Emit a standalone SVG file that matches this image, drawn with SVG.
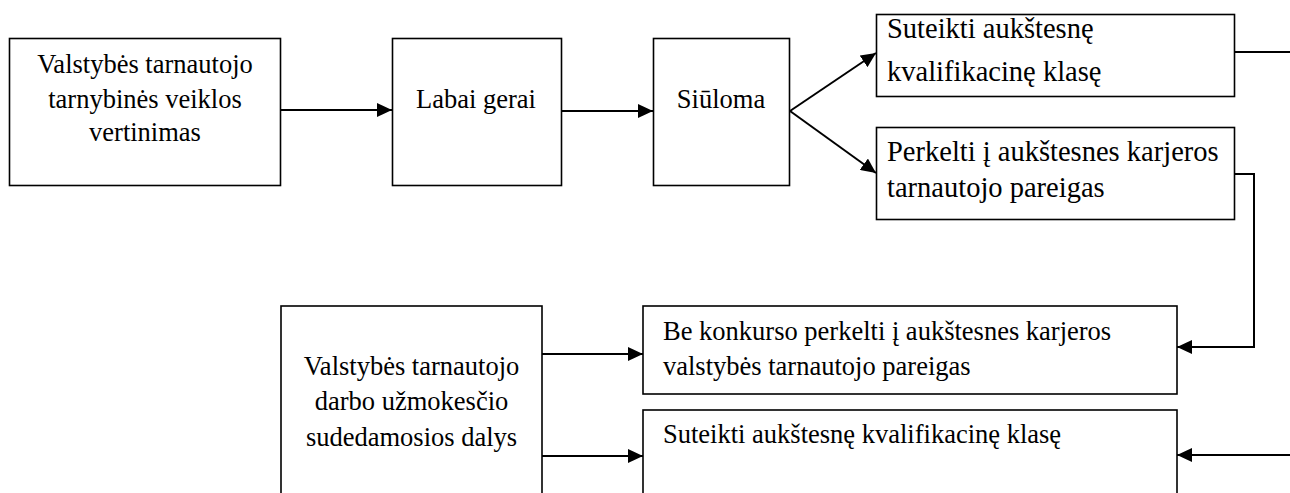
<svg xmlns="http://www.w3.org/2000/svg" width="1290" height="493" viewBox="0 0 1290 493">
<defs>
<style>
.box{fill:#fff;stroke:#000;stroke-width:1.6}
.t{font-family:"Liberation Serif","Times New Roman",serif;font-size:26.5px;fill:#000}
.tl{font-family:"Liberation Serif","Times New Roman",serif;font-size:28.5px;fill:#000}
.c{text-anchor:middle}
.ln{fill:none;stroke:#000;stroke-width:2}
</style>
<marker id="ah" markerWidth="15" markerHeight="14" refX="15" refY="7" orient="auto" markerUnits="userSpaceOnUse">
<path d="M0,0 L15,7 L0,14 Z" fill="#000"/>
</marker>
</defs>
<rect width="1290" height="493" fill="#fff"/>
<g id="connectors">
<line class="ln" x1="281" y1="110" x2="392" y2="110" marker-end="url(#ah)"/>
<line class="ln" x1="561" y1="111" x2="653" y2="111" marker-end="url(#ah)"/>
<line class="ln" x1="790" y1="111" x2="876" y2="53" marker-end="url(#ah)"/>
<line class="ln" x1="790" y1="111" x2="876" y2="173" marker-end="url(#ah)"/>
<line class="ln" x1="1235" y1="52" x2="1290" y2="52"/>
<polyline class="ln" points="1235,174 1254,174 1254,347 1177,347" marker-end="url(#ah)"/>
<line class="ln" x1="542" y1="354" x2="643" y2="354" marker-end="url(#ah)"/>
<line class="ln" x1="542" y1="456" x2="643" y2="456" marker-end="url(#ah)"/>
<line class="ln" x1="1290" y1="455" x2="1177" y2="455" marker-end="url(#ah)"/>
</g>
<g id="n1">
<rect class="box" x="9.5" y="38.5" width="271" height="147"/>
<text class="t c" x="145" y="73">Valstybės tarnautojo</text>
<text class="t c" x="145" y="108">tarnybinės veiklos</text>
<text class="t c" x="145" y="141">vertinimas</text>
</g>
<g id="n2">
<rect class="box" x="392.5" y="38.5" width="169" height="147"/>
<text class="t c" x="476" y="108">Labai gerai</text>
</g>
<g id="n3">
<rect class="box" x="653.5" y="38.5" width="136" height="147"/>
<text class="t c" x="721" y="108">Siūloma</text>
</g>
<g id="n4">
<rect class="box" x="876.5" y="14.5" width="358" height="82"/>
<text class="tl" x="887" y="38">Suteikti aukštesnę</text>
<text class="tl" x="887" y="81">kvalifikacinę klasę</text>
</g>
<g id="n5">
<rect class="box" x="876.5" y="127.5" width="358" height="92"/>
<text class="tl" x="887" y="161">Perkelti į aukštesnes karjeros</text>
<text class="tl" x="887" y="197">tarnautojo pareigas</text>
</g>
<g id="n6">
<rect class="box" x="281" y="306" width="261" height="200"/>
<text class="t c" x="411.5" y="375">Valstybės tarnautojo</text>
<text class="t c" x="411.5" y="410">darbo užmokesčio</text>
<text class="t c" x="411.5" y="446">sudedamosios dalys</text>
</g>
<g id="n7">
<rect class="box" x="643" y="306" width="534" height="88"/>
<text class="t" x="663" y="340">Be konkurso perkelti į aukštesnes karjeros</text>
<text class="t" x="663" y="375">valstybės tarnautojo pareigas</text>
</g>
<g id="n8">
<rect class="box" x="643" y="410" width="534" height="100"/>
<text class="t" x="663" y="443">Suteikti aukštesnę kvalifikacinę klasę</text>
</g>
</svg>
